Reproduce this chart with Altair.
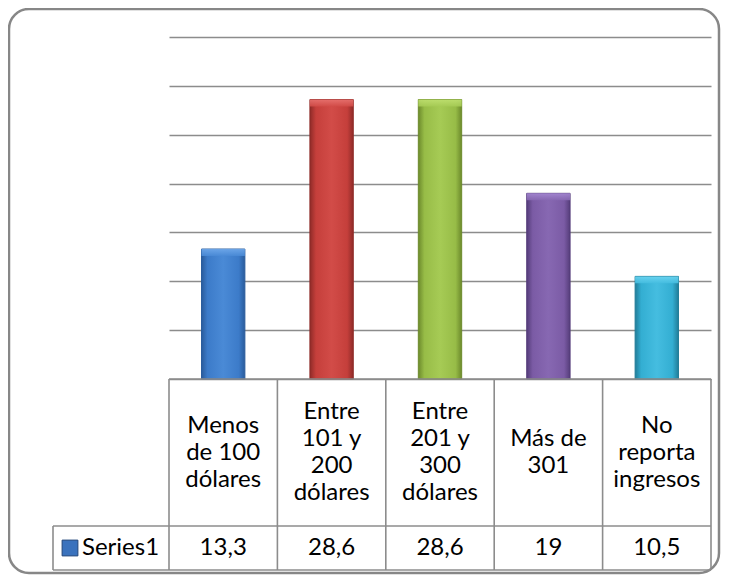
import altair as alt
import pandas as pd

# ---- data ----
categories = [
    "Menos de 100 dólares",
    "Entre 101 y 200 dólares",
    "Entre 201 y 300 dólares",
    "Más de 301",
    "No reporta ingresos",
]
table_labels = [
    "Menos\nde 100\ndólares",
    "Entre\n101 y\n200\ndólares",
    "Entre\n201 y\n300\ndólares",
    "Más de\n301",
    "No\nreporta\ningresos",
]
values = [13.3, 28.6, 28.6, 19, 10.5]
series_name = "Series1"
y_ticks = [0, 5, 10, 15, 20, 25, 30, 35]
# (edge, mid, highlight, top) per bar
bar_edges = ["#2a5c9c", "#8f2b28", "#6c8a2c", "#553d7a", "#217d99"]
bar_mids = ["#3c7bc9", "#c53f3b", "#97bc47", "#7b5ba5", "#33aed2"]
bar_lights = ["#4a8ad6", "#d24c48", "#a6cb55", "#8768b2", "#45bde0"]
bar_tops = ["#6fa8ea", "#e87370", "#bfe070", "#a588d2", "#6dd6f2"]

value_text = [f"{v:g}".replace(".", ",") for v in values]
df = pd.DataFrame({"cat": categories, "label": table_labels,
                   "value": values, "vtext": value_text})

# ---- layout (plot-area pixels) ----
W, H = 542, 342
ROW1 = 489          # bottom of category row
ROW2 = 533          # bottom of series row
LEFT_CELL = -116    # left edge of legend cell
GRID = "#8c8c8c"
FONT = "Lato"
FS = 24
LH = 27
TOP_BAND = 0.7      # highlight band height, in axis units

nlines = [lbl.count("\n") + 1 for lbl in table_labels]
df["ty"] = [(H + ROW1) / 2 - (n - 1) * LH / 2 for n in nlines]

x_enc = alt.X("cat:N", sort=categories, axis=None,
              scale=alt.Scale(paddingInner=0.6, paddingOuter=0.3))
y_scale = alt.Scale(domain=[0, 35], nice=False)
y_enc = alt.Y("value:Q", axis=alt.Axis(values=y_ticks, labels=False, ticks=False,
                                       domain=False, grid=True, gridColor=GRID,
                                       gridWidth=1.6, title=None),
              scale=y_scale)

base = alt.Chart(df)

bar_layers = []
for i, c in enumerate(categories):
    grad = {
        "gradient": "linear", "x1": 0, "y1": 0, "x2": 1, "y2": 0,
        "stops": [
            {"offset": 0.0, "color": bar_edges[i]},
            {"offset": 0.14, "color": bar_mids[i]},
            {"offset": 0.5, "color": bar_lights[i]},
            {"offset": 0.86, "color": bar_mids[i]},
            {"offset": 1.0, "color": bar_edges[i]},
        ]}
    sub = base.transform_filter(alt.datum.cat == c)
    bar_layers.append(
        sub.mark_bar(fill=grad, stroke=bar_edges[i], strokeWidth=1)
        .encode(x=x_enc, y=y_enc)
    )
    top_grad = {
        "gradient": "linear", "x1": 0, "y1": 0, "x2": 0, "y2": 1,
        "stops": [
            {"offset": 0.0, "color": bar_tops[i]},
            {"offset": 1.0, "color": bar_lights[i]},
        ]}
    bar_layers.append(
        sub.transform_calculate(low=alt.datum.value - TOP_BAND)
        .mark_bar(fill=top_grad, opacity=0.9)
        .encode(x=x_enc, y=alt.Y("value:Q", scale=y_scale), y2="low:Q")
    )

cat_text = base.mark_text(font=FONT, fontSize=FS, lineBreak="\n", lineHeight=LH,
                          align="center", baseline="middle", color="#000000").encode(
    x=x_enc, y=alt.Y("ty:Q", scale=None), text="label:N")
val_text = base.mark_text(font=FONT, fontSize=FS, align="center", baseline="middle",
                          color="#000000").encode(
    x=x_enc, y=alt.value((ROW1 + ROW2) / 2), text="vtext:N")

# table lines
col_w = W / len(categories)
vlines = pd.DataFrame({
    "x": [col_w * k for k in range(len(categories) + 1)] + [LEFT_CELL],
    "y": [H] * (len(categories) + 1) + [ROW1],
    "y2": [ROW2] * (len(categories) + 2),
})
hlines = pd.DataFrame({
    "x": [0, LEFT_CELL, LEFT_CELL],
    "x2": [W, W, W],
    "y": [H, ROW1, ROW2],
})
vrules = alt.Chart(vlines).mark_rule(color=GRID, strokeWidth=1.6).encode(
    x=alt.X("x:Q", scale=None), y=alt.Y("y:Q", scale=None), y2="y2:Q")
hrules = alt.Chart(hlines).mark_rule(color=GRID, strokeWidth=1.6).encode(
    x=alt.X("x:Q", scale=None), x2="x2:Q", y=alt.Y("y:Q", scale=None))

one = pd.DataFrame({"name": [series_name]})
legend_sym = alt.Chart(one).mark_point(shape="square", filled=True, size=250,
                                       color="#3a72bd", stroke="#22467a",
                                       strokeWidth=1, opacity=1).encode(
    x=alt.value(LEFT_CELL + 17), y=alt.value((ROW1 + ROW2) / 2))
legend_txt = alt.Chart(one).mark_text(font=FONT, fontSize=FS, align="left",
                                      baseline="middle", color="#000000").encode(
    x=alt.value(LEFT_CELL + 29), y=alt.value((ROW1 + ROW2) / 2), text="name:N")

frame = alt.Chart(one).mark_rect(fill="transparent", stroke="#878787", strokeWidth=2.5,
                                 cornerRadius=20).encode(
    x=alt.value(-160), x2=alt.value(550), y=alt.value(-28), y2=alt.value(536))

chart = alt.layer(
    frame, *bar_layers, hrules, vrules, cat_text, val_text, legend_sym, legend_txt
).properties(
    width=W, height=H,
    padding={"left": 161, "top": 29, "right": 10, "bottom": 196},
    autosize=alt.AutoSizeParams(type="none"),
    background="white",
).configure_view(stroke=None)

chart.save("out.html", embed_options={"renderer": "svg", "actions": False})
